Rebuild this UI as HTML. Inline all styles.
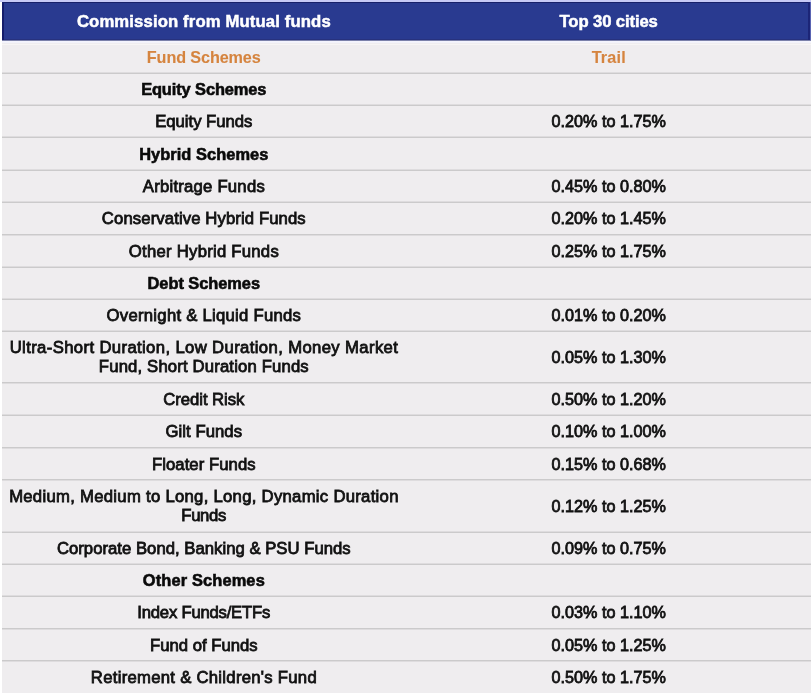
<!DOCTYPE html>
<html><head><meta charset="utf-8"><title>Commission from Mutual funds</title>
<style>
html,body{margin:0;padding:0;}
body{width:811px;height:693px;overflow:hidden;position:relative;background:#ffffff;font-family:"Liberation Sans",Arial,sans-serif;color:#111;}
.top{position:absolute;left:0;top:0;width:811px;height:2px;background:#c6c9f6;}
.hdr{position:absolute;left:2px;top:2px;width:809px;height:38px;background:#293a90;}
.hdr .edge{position:absolute;left:0;top:0;width:100%;height:1px;background:#17206a;}
.hdr .bedge{position:absolute;left:0;top:37px;width:100%;height:1px;background:#27327e;}
.hdr .ledge{position:absolute;left:0;top:0;width:2px;height:38px;background:#141c6c;}
.hdr .redge{position:absolute;left:806px;top:0;width:2px;height:38px;background:#1c2577;}
.hdr .rl{position:absolute;left:808px;top:0;width:1px;height:38px;background:#5a64b2;}
.body{position:absolute;left:2px;top:40px;width:809px;height:653px;background:#efedef;}
.hb{position:absolute;left:2px;width:809px;height:1px;}
.hl{position:absolute;left:2px;width:809px;height:1px;background:#cbcacb;}
.hl2{position:absolute;left:2px;width:809px;height:1px;background:#dedcde;}
.t{position:absolute;filter:blur(0.35px);display:flex;flex-direction:column;align-items:center;justify-content:center;text-align:center;line-height:19px;white-space:nowrap;}
.t span{display:block;}
.h{color:#fff;font-weight:700;-webkit-text-stroke:0.5px #fff;}
.o{color:#d5843f;font-weight:700;-webkit-text-stroke:0.1px #d5843f;}
.b{color:#0a0a0a;font-weight:700;-webkit-text-stroke:0.6px #0a0a0a;}
.n{color:#111;font-weight:400;-webkit-text-stroke:0.8px #111;}
.v{color:#111;font-weight:400;-webkit-text-stroke:0.8px #111;}
</style></head><body>
<div class="top"></div>
<div class="body"></div>
<div class="hb" style="top:40px;background:#7b81aa"></div>
<div class="hb" style="top:41px;background:#f4f4fd"></div>
<div class="hb" style="top:42px;background:#f3f3fb"></div>
<div class="hb" style="top:44px;background:#f7f5f5"></div>
<div class="hdr"><div class="edge"></div><div class="bedge"></div><div class="ledge"></div><div class="redge"></div><div class="rl"></div></div>

<div class="t h" style="left:3.80px;top:2.00px;width:400px;height:38.00px"><span style="font-size:16.7px;letter-spacing:0.130px;margin-right:-0.130px">Commission from Mutual funds</span></div>
<div class="t h" style="left:408.70px;top:2.00px;width:400px;height:38.00px"><span style="font-size:16.7px;letter-spacing:-0.127px;margin-right:0.127px">Top 30 cities</span></div>
<div class="t o" style="left:3.80px;top:40.50px;width:400px;height:33.20px"><span style="font-size:16.2px;letter-spacing:-0.112px;margin-right:0.112px">Fund Schemes</span></div>
<div class="t o" style="left:408.70px;top:40.50px;width:400px;height:33.20px"><span style="font-size:16.2px;letter-spacing:0.170px;margin-right:-0.170px">Trail</span></div>
<div class="hl" style="top:73px"></div><div class="hl2" style="top:72px"></div>
<div class="t b" style="left:3.80px;top:73.70px;width:400px;height:32.20px"><span style="font-size:16.4px;letter-spacing:-0.099px;margin-right:0.099px">Equity Schemes</span></div>
<div class="hl" style="top:105px"></div><div class="hl2" style="top:104px"></div>
<div class="t n" style="left:3.80px;top:105.90px;width:400px;height:32.00px"><span style="font-size:16.7px;letter-spacing:-0.006px;margin-right:0.006px">Equity Funds</span></div>
<div class="t v" style="left:408.70px;top:105.90px;width:400px;height:32.00px"><span style="font-size:16.2px;letter-spacing:0.009px;margin-right:-0.009px">0.20% to 1.75%</span></div>
<div class="hl" style="top:137px"></div><div class="hl2" style="top:136px"></div>
<div class="t b" style="left:3.80px;top:137.90px;width:400px;height:32.90px"><span style="font-size:16.4px;letter-spacing:0.060px;margin-right:-0.060px">Hybrid Schemes</span></div>
<div class="hl" style="top:170px"></div><div class="hl2" style="top:169px"></div>
<div class="t n" style="left:3.80px;top:170.80px;width:400px;height:32.00px"><span style="font-size:16.7px;letter-spacing:0.227px;margin-right:-0.227px">Arbitrage Funds</span></div>
<div class="t v" style="left:408.70px;top:170.80px;width:400px;height:32.00px"><span style="font-size:16.2px;letter-spacing:0.009px;margin-right:-0.009px">0.45% to 0.80%</span></div>
<div class="hl" style="top:202px"></div><div class="hl2" style="top:201px"></div>
<div class="t n" style="left:3.80px;top:202.80px;width:400px;height:32.30px"><span style="font-size:16.7px;letter-spacing:0.108px;margin-right:-0.108px">Conservative Hybrid Funds</span></div>
<div class="t v" style="left:408.70px;top:202.80px;width:400px;height:32.30px"><span style="font-size:16.2px;letter-spacing:0.009px;margin-right:-0.009px">0.20% to 1.45%</span></div>
<div class="hl" style="top:234px"></div><div class="hl2" style="top:235px"></div>
<div class="t n" style="left:3.80px;top:235.10px;width:400px;height:32.70px"><span style="font-size:16.7px;letter-spacing:0.252px;margin-right:-0.252px">Other Hybrid Funds</span></div>
<div class="t v" style="left:408.70px;top:235.10px;width:400px;height:32.70px"><span style="font-size:16.2px;letter-spacing:0.009px;margin-right:-0.009px">0.25% to 1.75%</span></div>
<div class="hl" style="top:267px"></div><div class="hl2" style="top:266px"></div>
<div class="t b" style="left:3.80px;top:267.80px;width:400px;height:31.70px"><span style="font-size:16.4px;letter-spacing:-0.039px;margin-right:0.039px">Debt Schemes</span></div>
<div class="hl" style="top:299px"></div><div class="hl2" style="top:298px"></div>
<div class="t n" style="left:3.80px;top:299.50px;width:400px;height:32.40px"><span style="font-size:16.7px;letter-spacing:0.263px;margin-right:-0.263px">Overnight &amp; Liquid Funds</span></div>
<div class="t v" style="left:408.70px;top:299.50px;width:400px;height:32.40px"><span style="font-size:16.2px;letter-spacing:0.009px;margin-right:-0.009px">0.01% to 0.20%</span></div>
<div class="hl" style="top:331px"></div><div class="hl2" style="top:330px"></div>
<div class="t n" style="left:3.80px;top:331.90px;width:400px;height:51.10px"><span style="font-size:16.7px;letter-spacing:0.367px;margin-right:-0.367px">Ultra-Short Duration, Low Duration, Money Market</span><span style="font-size:16.7px;letter-spacing:0.157px;margin-right:-0.157px">Fund, Short Duration Funds</span></div>
<div class="t v" style="left:408.70px;top:331.90px;width:400px;height:51.10px"><span style="font-size:16.2px;letter-spacing:0.009px;margin-right:-0.009px">0.05% to 1.30%</span></div>
<div class="hl" style="top:382px"></div><div class="hl2" style="top:383px"></div>
<div class="t n" style="left:3.80px;top:383.00px;width:400px;height:32.95px"><span style="font-size:16.7px;letter-spacing:-0.056px;margin-right:0.056px">Credit Risk</span></div>
<div class="t v" style="left:408.70px;top:383.00px;width:400px;height:32.95px"><span style="font-size:16.2px;letter-spacing:0.009px;margin-right:-0.009px">0.50% to 1.20%</span></div>
<div class="hl" style="top:415px"></div><div class="hl2" style="top:414px"></div>
<div class="t n" style="left:3.80px;top:415.95px;width:400px;height:32.05px"><span style="font-size:16.7px;letter-spacing:0.044px;margin-right:-0.044px">Gilt Funds</span></div>
<div class="t v" style="left:408.70px;top:415.95px;width:400px;height:32.05px"><span style="font-size:16.2px;letter-spacing:0.009px;margin-right:-0.009px">0.10% to 1.00%</span></div>
<div class="hl" style="top:447px"></div><div class="hl2" style="top:448px"></div>
<div class="t n" style="left:3.80px;top:448.00px;width:400px;height:32.00px"><span style="font-size:16.7px;letter-spacing:0.064px;margin-right:-0.064px">Floater Funds</span></div>
<div class="t v" style="left:408.70px;top:448.00px;width:400px;height:32.00px"><span style="font-size:16.2px;letter-spacing:0.009px;margin-right:-0.009px">0.15% to 0.68%</span></div>
<div class="hl" style="top:479px"></div><div class="hl2" style="top:480px"></div>
<div class="t n" style="left:3.80px;top:480.00px;width:400px;height:52.50px"><span style="font-size:16.7px;letter-spacing:0.283px;margin-right:-0.283px">Medium, Medium to Long, Long, Dynamic Duration</span><span style="font-size:16.7px;letter-spacing:-0.354px;margin-right:0.354px">Funds</span></div>
<div class="t v" style="left:408.70px;top:480.00px;width:400px;height:52.50px"><span style="font-size:16.2px;letter-spacing:0.009px;margin-right:-0.009px">0.12% to 1.25%</span></div>
<div class="hl" style="top:532px"></div><div class="hl2" style="top:531px"></div>
<div class="t n" style="left:3.80px;top:532.50px;width:400px;height:32.10px"><span style="font-size:16.7px;letter-spacing:0.019px;margin-right:-0.019px">Corporate Bond, Banking &amp; PSU Funds</span></div>
<div class="t v" style="left:408.70px;top:532.50px;width:400px;height:32.10px"><span style="font-size:16.2px;letter-spacing:0.009px;margin-right:-0.009px">0.09% to 0.75%</span></div>
<div class="hl" style="top:564px"></div><div class="hl2" style="top:563px"></div>
<div class="t b" style="left:3.80px;top:564.60px;width:400px;height:32.20px"><span style="font-size:16.4px;letter-spacing:0.140px;margin-right:-0.140px">Other Schemes</span></div>
<div class="hl" style="top:596px"></div><div class="hl2" style="top:595px"></div>
<div class="t n" style="left:3.80px;top:596.80px;width:400px;height:32.30px"><span style="font-size:16.7px;letter-spacing:-0.229px;margin-right:0.229px">Index Funds/ETFs</span></div>
<div class="t v" style="left:408.70px;top:596.80px;width:400px;height:32.30px"><span style="font-size:16.2px;letter-spacing:0.009px;margin-right:-0.009px">0.03% to 1.10%</span></div>
<div class="hl" style="top:628px"></div><div class="hl2" style="top:629px"></div>
<div class="t n" style="left:3.80px;top:629.10px;width:400px;height:32.10px"><span style="font-size:16.7px;letter-spacing:-0.007px;margin-right:0.007px">Fund of Funds</span></div>
<div class="t v" style="left:408.70px;top:629.10px;width:400px;height:32.10px"><span style="font-size:16.2px;letter-spacing:0.009px;margin-right:-0.009px">0.05% to 1.25%</span></div>
<div class="hl" style="top:660px"></div><div class="hl2" style="top:661px"></div>
<div class="t n" style="left:3.80px;top:661.20px;width:400px;height:32.30px"><span style="font-size:16.7px;letter-spacing:0.277px;margin-right:-0.277px">Retirement &amp; Children&#39;s Fund</span></div>
<div class="t v" style="left:408.70px;top:661.20px;width:400px;height:32.30px"><span style="font-size:16.2px;letter-spacing:0.009px;margin-right:-0.009px">0.50% to 1.75%</span></div>
</body></html>
